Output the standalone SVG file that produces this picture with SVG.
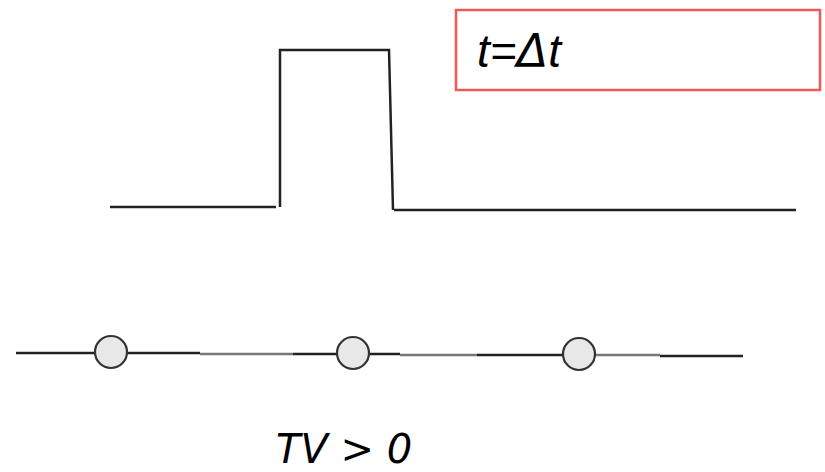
<svg xmlns="http://www.w3.org/2000/svg" width="825" height="472" viewBox="0 0 825 472">
<style>
.ln{fill:none;stroke:#222;stroke-width:2.5;stroke-linecap:butt}
.gl{fill:none;stroke:#777;stroke-width:2.5}
.nd{fill:#e8e8e8;stroke:#333;stroke-width:2.2}
.lbl{font-family:"Liberation Sans",Arial,sans-serif;font-style:italic;fill:#000}
</style>
<rect width="825" height="472" fill="#fff"/>
<g id="pulse">
<polyline class="ln" points="110,207 276,207"/>
<polyline class="ln" points="280,207 280,50 389,50 393,210"/>
<polyline class="ln" points="394,210 796,210"/>
</g>
<g id="label-box">
<rect x="456" y="10" width="364" height="80" fill="#fff" stroke="#f25757" stroke-width="2.5"/>
<text class="lbl" x="477" y="67" font-size="46">t=<tspan font-family="'DejaVu Sans',sans-serif" font-weight="200">Δ</tspan>t</text>
</g>
<g id="connectors">
<line class="ln" x1="16" y1="353" x2="200" y2="353"/>
<line class="gl" x1="200" y1="354" x2="293" y2="354"/>
<line class="ln" x1="293" y1="354" x2="340" y2="354"/>
<line class="ln" x1="365" y1="354" x2="400" y2="354"/>
<line class="gl" x1="400" y1="355" x2="477" y2="355"/>
<line class="ln" x1="477" y1="355" x2="565" y2="355"/>
<line class="gl" x1="595" y1="355" x2="660" y2="355"/>
<line class="ln" x1="660" y1="356" x2="743" y2="356"/>
</g>
<g id="node1"><circle class="nd" cx="111" cy="352" r="16"/></g>
<g id="node2"><circle class="nd" cx="353" cy="353" r="16"/></g>
<g id="node3"><circle class="nd" cx="579" cy="354" r="16"/></g>
<g id="caption">
<text x="276" y="463" font-family="'DejaVu Sans',Verdana,sans-serif" font-style="italic" font-size="40" fill="#000">TV &gt; 0</text>
</g>
</svg>
